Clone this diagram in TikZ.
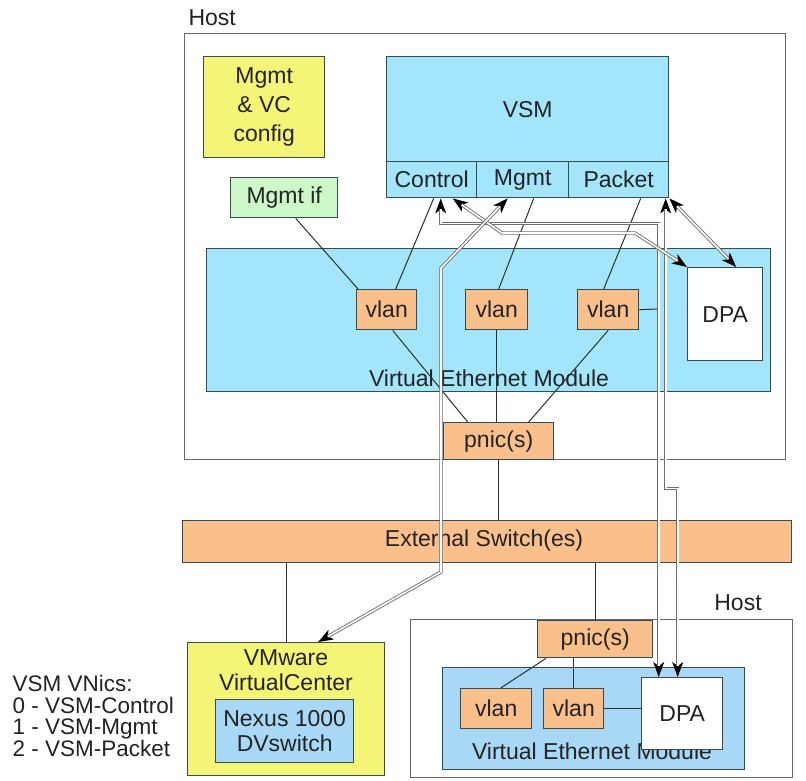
\documentclass[tikz,border=0pt]{standalone}
\usepackage{fontspec}
\setmainfont{Liberation Sans}
\usetikzlibrary{arrows.meta}
\definecolor{bordercol}{RGB}{55,75,85}
\definecolor{hostgray}{RGB}{105,105,105}
\definecolor{vsmblue}{RGB}{163,229,250}
\definecolor{nexblue}{RGB}{168,216,245}
\definecolor{ylw}{RGB}{244,244,118}
\definecolor{grn}{RGB}{205,248,200}
\definecolor{org}{RGB}{250,192,140}
\definecolor{txt}{RGB}{35,35,35}
\definecolor{linecol}{RGB}{40,50,55}
\definecolor{dblgray}{RGB}{110,110,110}
\newcommand\dblconn[1]{\draw[tipline] #1; \draw[dblline] #1;}
\begin{document}
\begin{tikzpicture}[x=1pt,y=-1pt, font=\fontsize{23}{26}\selectfont, text=txt,
  box/.style={draw=bordercol, line width=1.4pt, inner sep=0pt, anchor=north west, align=center},
  hostbox/.style={draw=hostgray, line width=1.2pt, fill=white, anchor=north west, inner sep=0pt},
  conn/.style={draw=linecol, line width=1pt},
  bigtip/.tip={Stealth[length=15pt,width=11pt,inset=4pt]},
  tipline/.style={draw=black, line width=1.2pt, bigtip-bigtip},
  dblline/.style={draw=dblgray, line width=0.9pt, double=white, double distance=1.6pt,
      shorten <=11pt, shorten >=11pt}
]
\useasboundingbox (0,0) rectangle (806,780);

% ---------- host 1 ----------
\node[anchor=west] (host1lbl) at (185,18) {Host};
\node[hostbox, minimum width=601pt, minimum height=426pt] (host1) at (184,33) {};

\node[box, fill=ylw, minimum width=121pt, minimum height=101pt,
      font=\fontsize{23}{29}\selectfont] (mvc) at (203,56) {Mgmt\\\& VC\\config};
\node[box, fill=grn, minimum width=107pt, minimum height=40pt] (mgmtif) at (230,177) {Mgmt if};

\node[box, fill=vsmblue, minimum width=282pt, minimum height=105pt] (vsm) at (386,56) {VSM};
\node[box, fill=vsmblue, minimum width=90pt, minimum height=36pt] (control) at (386,161) {Control};
\node[box, fill=vsmblue, minimum width=92pt, minimum height=36pt] (mgmtc) at (476,161) {Mgmt};
\node[box, fill=vsmblue, minimum width=100pt, minimum height=36pt] (packet) at (568,161) {Packet};

\node[box, fill=vsmblue, minimum width=564pt, minimum height=143pt] (vem1) at (206,248) {};
\node (vem1lbl) at (489,378) {Virtual Ethernet Module};

\node[box, fill=org, minimum width=60pt, minimum height=40pt] (vlan1) at (356,289) {vlan};
\node[box, fill=org, minimum width=62pt, minimum height=40pt] (vlan2) at (465,289) {vlan};
\node[box, fill=org, minimum width=61pt, minimum height=40pt] (vlan3) at (577,289) {vlan};
\node[box, fill=white, minimum width=75pt, minimum height=93pt] (dpa1) at (687,267) {DPA};

\node[box, fill=org, minimum width=110pt, minimum height=37pt] (pnic1) at (443,422) {pnic(s)};

% ---------- external switch ----------
\node[box, fill=org, minimum width=609pt, minimum height=42pt] (ext) at (182,520) {};
\node (extlbl) at (484,541) {External Switch(es)};

% ---------- VMware ----------
\node[box, fill=ylw, minimum width=197pt, minimum height=133pt] (vmware) at (187,642) {};
\node[align=center, font=\fontsize{23}{25}\selectfont] (vmwarelbl) at (286,670) {VMware\\VirtualCenter};
\node[box, fill=nexblue, minimum width=138pt, minimum height=63pt,
      font=\fontsize{23}{25}\selectfont] (nexus) at (215,699) {Nexus 1000\\DVswitch};

\node[anchor=west, align=left, font=\fontsize{22.5}{21.7}\selectfont] (vnics) at (9,716)
  {VSM VNics:\\0 - VSM-Control\\1 - VSM-Mgmt\\2 - VSM-Packet};

% ---------- host 2 ----------
\node (host2lbl) at (738,603) {Host};
\node[hostbox, minimum width=382pt, minimum height=158pt] (host2) at (410,619) {};
\node[box, fill=org, minimum width=115pt, minimum height=37pt] (pnic2) at (537,620) {pnic(s)};
\node[box, fill=nexblue, minimum width=302pt, minimum height=102pt] (vem2) at (442,667) {};
\node (vem2lbl) at (592,751) {Virtual Ethernet Module};
\node[box, fill=org, minimum width=71pt, minimum height=40pt] (vlan2a) at (460,688) {vlan};
\node[box, fill=org, minimum width=60pt, minimum height=40pt] (vlan2b) at (543,688) {vlan};
\node[box, fill=white, minimum width=81pt, minimum height=72pt] (dpa2) at (641,677) {DPA};

% ---------- plain connectors ----------
\coordinate (vlan3end) at (657,309);
\draw[conn] ([xshift=11.5pt]mgmtif.south) -- ([xshift=2pt]vlan1.north west);
\draw[conn] ([xshift=2pt]control.south) -- ([xshift=9pt]vlan1.north);
\draw[conn] ([xshift=11pt]mgmtc.south) -- ([xshift=2pt]vlan2.north);
\draw[conn] ([xshift=22pt]packet.south) -- ([xshift=-4.5pt]vlan3.north);
\draw[conn] ([xshift=6pt]vlan1.south) -- ([xshift=-31pt]pnic1.north);
\draw[conn] (vlan2.south) -- (vlan2.south |- pnic1.north);
\draw[conn] (vlan3.south) -- ([xshift=30pt]pnic1.north);
\draw[conn] (vlan3.east) -- (vlan3end);
\draw[conn] (pnic1.south) -- (pnic1.south |- ext.north);
\draw[conn] (vmware.north) -- (vmware.north |- ext.south);
\draw[conn] (pnic2.north) -- (pnic2.north |- ext.south);
\draw[conn] ([xshift=9pt]pnic2.south west) -- ([xshift=4.5pt]vlan2a.north);
\draw[conn] (vlan2b.north) -- (vlan2b.north |- pnic2.south);
\draw[conn] (vlan2b.east) -- (vlan2b.east -| dpa2.west);

% ---------- double-line arrows ----------
\dblconn{([xshift=9pt]control.south) -- ++(0,25) -| ([xshift=-23.5pt]dpa2.north)}
\dblconn{([xshift=47pt]packet.south) -- ++(0,290) -- ++(12,0) -- ([xshift=-4.5pt]dpa2.north)}
\dblconn{([xshift=21pt]control.south) -- (502,233) -- (635,233) -- (dpa1.north west)}
\dblconn{([xshift=-15pt]mgmtc.south) -- (441,268) -- (441,572) -- ([xshift=32pt]vmware.north)}
\dblconn{(packet.south east) -- ([xshift=11pt]dpa1.north)}
\end{tikzpicture}
\end{document}
